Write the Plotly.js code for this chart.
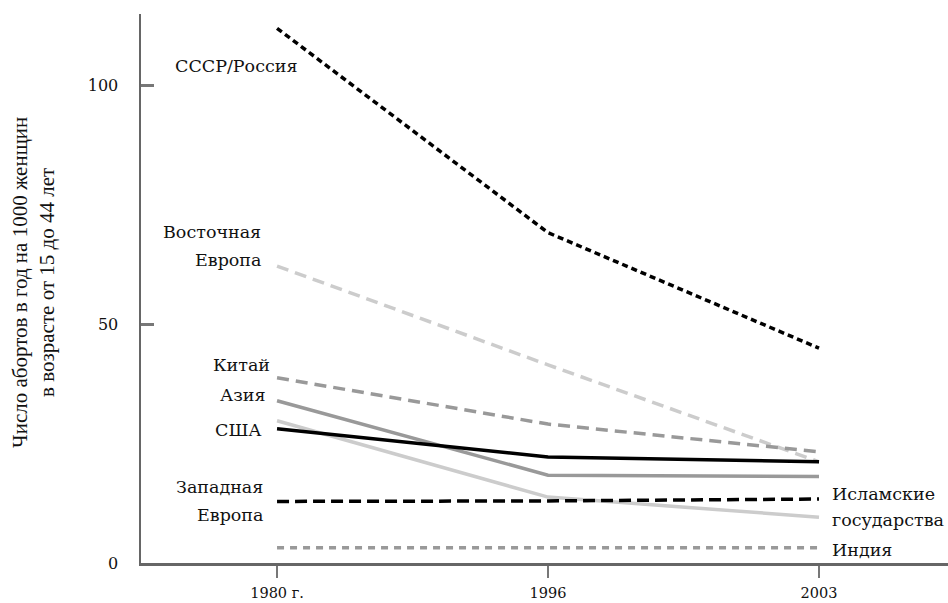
<!DOCTYPE html>
<html><head><meta charset="utf-8">
<script src="https://cdn.plot.ly/plotly-3.0.1.min.js"></script>
<style>html,body{margin:0;padding:0;background:#fff}#c{width:948px;height:603px}</style>
</head><body><div id="c"></div>
<script>
const years = ["1980 г.", "1996", "2003"];
const russia = [112, 69.2, 45];
const eastEurope = [62.2, 41.5, 21.2];
const china = [38.8, 29.1, 23.3];
const asia = [34, 18.4, 18.1];
const usa = [28.1, 22.2, 21.2];
const islamic = [29.8, 13.8, 9.6];
const westEurope = [12.9, 13, 13.4];
const india = [3.2, 3.2, 3.2];

const F = "DejaVu Serif, Liberation Serif, serif";
function tr(y, color, dash) {
  return {x: years, y: y, type: "scatter", mode: "lines", hoverinfo: "skip",
    line: {color: color, width: 3.5, dash: dash}};
}
const data = [
  tr(india, "#999999", "7px,6px"),
  tr(islamic, "#cccccc", "solid"),
  tr(asia, "#999999", "solid"),
  tr(eastEurope, "#cccccc", "12px,7px"),
  tr(china, "#999999", "12px,7px"),
  tr(westEurope, "#000000", "12px,6px"),
  tr(usa, "#000000", "solid"),
  tr(russia, "#000000", "6px,4px")
];
// paper coords: plot left=141, width 807; top=14, height 549
function px(xp) { return (xp - 141) / 807; }
function py(yp) { return (563 - yp) / 549; }
function lab(text, x, y, xanchor) {
  return {xref: "paper", yref: "paper", x: px(x), y: py(y), text: text, showarrow: false,
    xanchor: xanchor, yanchor: "middle", font: {family: F, size: 17.5, color: "#111"}};
}
const annotations = [
  lab("СССР/Россия", 173, 66, "left"),
  lab("Восточная", 263, 232, "right"),
  lab("Европа", 263, 260, "right"),
  lab("Китай", 272, 365, "right"),
  lab("Азия", 268, 395, "right"),
  lab("США", 264, 430, "right"),
  lab("Западная", 265, 487, "right"),
  lab("Европа", 265, 515, "right"),
  lab("Исламские", 830, 494, "left"),
  lab("государства", 830, 520, "left"),
  lab("Индия", 830, 550, "left"),
  {xref: "paper", yref: "paper", x: px(33), y: py(283), text: "Число абортов в год на 1000 женщин<br>в возрасте от 15 до 44 лет",
    showarrow: false, textangle: -90, xanchor: "center", yanchor: "middle", align: "center",
    font: {family: "Liberation Serif, serif", size: 21, color: "#111"}}
];
const layout = {
  width: 948, height: 603,
  margin: {l: 141, r: 0, t: 14, b: 40},
  paper_bgcolor: "#fff", plot_bgcolor: "#fff",
  showlegend: false,
  xaxis: {type: "category", range: [-0.502, 2.476], showgrid: false, zeroline: false,
    showline: true, linecolor: "#666", linewidth: 2.5,
    ticks: "outside", ticklen: 12, tickwidth: 2.5, tickcolor: "#777",
    tickfont: {family: F, size: 14.5, color: "#111"}, ticklabelstandoff: 3},
  yaxis: {range: [0, 115], tickvals: [0, 50, 100], showgrid: false, zeroline: false,
    showline: true, linecolor: "#666", linewidth: 2.5,
    ticks: "inside", ticklen: 13, tickwidth: 2.5, tickcolor: "#777",
    tickfont: {family: F, size: 16, color: "#111"}, ticklabelstandoff: 17},
  annotations: annotations
};
Plotly.newPlot("c", data, layout, {displayModeBar: false, staticPlot: true});
</script></body></html>
